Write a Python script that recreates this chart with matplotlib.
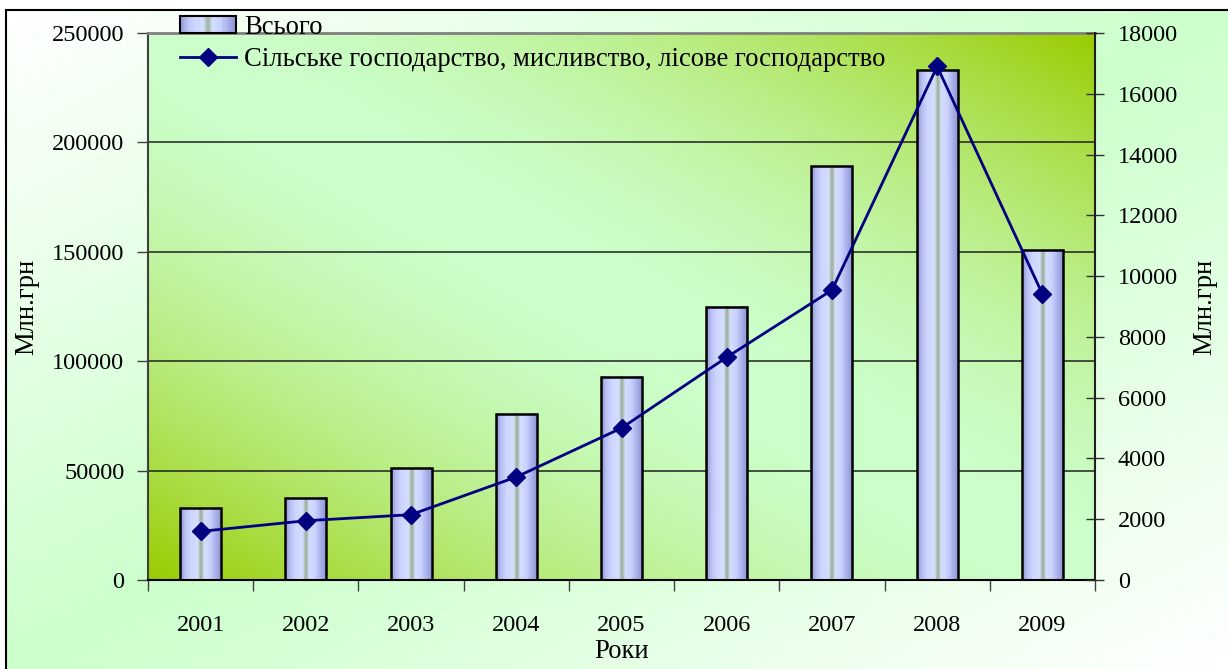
import numpy as np
import matplotlib
matplotlib.use('Agg')
import matplotlib.pyplot as plt
from matplotlib.colors import LinearSegmentedColormap, to_rgb
from matplotlib.patches import Rectangle
from matplotlib.legend_handler import HandlerBase
from matplotlib.ticker import FixedLocator

plt.rcParams['font.family'] = ['Liberation Serif', 'DejaVu Serif']

# дані
years = ['2001', '2002', '2003', '2004', '2005', '2006', '2007', '2008', '2009']
total = [33000, 37500, 51000, 76000, 93000, 125000, 189000, 233000, 151000]
agro = [1600, 1950, 2150, 3390, 5000, 7330, 9540, 16900, 9410]
left_ticks = [0, 50000, 100000, 150000, 200000, 250000]
right_ticks = [0, 2000, 4000, 6000, 8000, 10000, 12000, 14000, 16000, 18000]

FS = 17.5
FS_L = 19.2
bar_pos = [0.0, 0.12, 0.25, 0.42, 0.46, 0.5, 0.54, 0.58, 0.72, 0.85, 1.0]
bar_cols = ['#8c92d4', '#b8c0f2', '#ccd6ff', '#d4deff', '#b8c8c8', '#9aaa9a',
            '#b8c8c8', '#d4deff', '#c8d2ff', '#aab2ea', '#8c92d4']
bar_cmap = LinearSegmentedColormap.from_list('bar', list(zip(bar_pos, bar_cols)))


def diag_grad(c_mid, c_end, flip=False, power=1.0, n=300):
    xx, yy = np.meshgrid(np.linspace(0, 1, n), np.linspace(0, 1, n))
    if flip:
        s = (xx + (1 - yy)) / 2
    else:
        s = (xx + yy) / 2
    f = (np.abs(2 * s - 1) ** power)[..., None]
    a = np.array(to_rgb(c_mid))
    b = np.array(to_rgb(c_end))
    return a * (1 - f) + b * f


class GradHandler(HandlerBase):
    def create_artists(self, legend, orig_handle, xdescent, ydescent,
                       width, height, fontsize, trans):
        n = 40
        arts = []
        for i in range(n):
            c = bar_cmap((i + 0.5) / n)
            arts.append(Rectangle((-xdescent + width * i / n, -ydescent), width / n, height,
                                  facecolor=c, edgecolor='none', transform=trans))
        arts.append(Rectangle((-xdescent, -ydescent), width, height, facecolor='none',
                              edgecolor='black', lw=1.5, transform=trans))
        return arts


fig = plt.figure(figsize=(12.28, 6.69), dpi=100)

# фон діаграми
bg = fig.add_axes([6 / 1228, 0, 1 - 6 / 1228, 659 / 669], zorder=-10)
bg.imshow(diag_grad('#ccffcc', '#ffffff', flip=True), extent=(0, 1, 0, 1),
          aspect='auto', origin='lower')
bg.set_xlim(0, 1)
bg.set_ylim(0, 1)
bg.set_xticks([])
bg.set_yticks([])
for s in ['right', 'bottom']:
    bg.spines[s].set_visible(False)
for s in ['left', 'top']:
    bg.spines[s].set_linewidth(1.5)

ax = fig.add_axes([148 / 1228, 89 / 669, 947 / 1228, 547 / 669])
ax.patch.set_visible(False)
ax.imshow(diag_grad('#ccffcc', '#99cc00', power=1.7), extent=(0, 1, 0, 1), transform=ax.transAxes,
          aspect='auto', origin='lower', zorder=0)

x = np.arange(len(years))
bars = ax.bar(x, total, width=0.39, facecolor='none', edgecolor='black', lw=1.8, zorder=3,
              label='Всього')
grad = np.linspace(0, 1, 200)[None, :]
for b in bars:
    ax.imshow(grad, cmap=bar_cmap, extent=(b.get_x(), b.get_x() + b.get_width(), 0, b.get_height()),
              aspect='auto', zorder=2)

for v in left_ticks[1:-1]:
    ax.axhline(v, color='#202020', lw=1.1, zorder=1)

ax.set_xlim(-0.5, len(years) - 0.5)
ax.set_ylim(0, 250000)
ax.set_aspect('auto')
ax.set_yticks(left_ticks)
ax.set_yticklabels([str(v) for v in left_ticks], fontsize=FS)
ax.set_xticks(x)
ax.set_xticklabels(years, fontsize=FS)
ax.xaxis.set_minor_locator(FixedLocator(np.arange(len(years) + 1) - 0.5))
ax.tick_params(axis='x', which='major', length=0, pad=25)
ax.tick_params(axis='x', which='minor', length=8, width=1, color='#404040', direction='out')
ax.tick_params(axis='y', length=8, width=1, color='#404040', pad=9)
ax.spines['top'].set_color('#808080')
ax.spines['top'].set_linewidth(2)
ax.spines['left'].set_color('#404040')
ax.spines['left'].set_linewidth(1.5)
ax.spines['bottom'].set_color('black')
ax.spines['bottom'].set_linewidth(1.5)
ax.spines['right'].set_visible(False)
ax.set_ylabel('Млн.грн', fontsize=FS_L, labelpad=9)
ax.set_xlabel('Роки', fontsize=FS_L, labelpad=2)

ax2 = ax.twinx()
line, = ax2.plot(x, agro, color='#000080', lw=2, marker='D', ms=9, zorder=5,
                 label='Сільське господарство, мисливство, лісове господарство')
ax2.set_ylim(0, 18000)
ax2.set_yticks(right_ticks)
ax2.set_yticklabels([str(v) for v in right_ticks], fontsize=FS)
ax2.tick_params(axis='y', length=13, width=1, color='#303030', direction='inout', pad=10)
for s in ['top', 'left', 'bottom']:
    ax2.spines[s].set_visible(False)
ax2.spines['right'].set_color('#202020')
ax2.spines['right'].set_linewidth(1.5)
ax2.set_ylabel('Млн.грн', fontsize=FS_L, labelpad=10)

fig.legend([bars, line], ['Всього', 'Сільське господарство, мисливство, лісове господарство'],
           handler_map={type(bars): GradHandler()},
           loc='upper left', bbox_to_anchor=(180 / 1228, 1 - 15 / 669), frameon=False,
           fontsize=FS_L, handlelength=2.1, handleheight=0.6, handletextpad=0.3,
           labelspacing=0.25, borderpad=0, borderaxespad=0)

fig.savefig('out.png', dpi=100)
